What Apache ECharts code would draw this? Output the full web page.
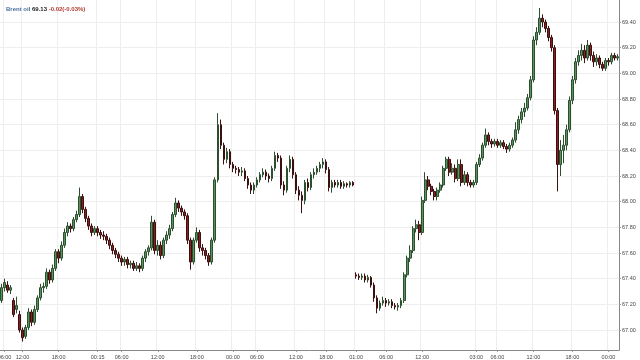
<!DOCTYPE html>
<html><head><meta charset="utf-8">
<script src="https://cdn.jsdelivr.net/npm/echarts@6/dist/echarts.min.js"></script>
<style>html,body{margin:0;padding:0;background:#fff}#c{width:640px;height:360px}</style>
</head><body><div id="c"></div>
<script>
// Instrument header
const instrument = 'Brent oil';
const lastPrice = 69.13;
const changeText = '-0.02(-0.03%)';

// Candles: [open, close, low, high] — session 1
const session1 = [
[67.23,67.33,67.21,67.36],[67.33,67.37,67.30,67.40],[67.35,67.31,67.29,67.38],[67.31,67.33,67.28,67.35],
[67.23,67.12,67.10,67.25],[67.16,67.19,67.13,67.26],[67.12,67.00,66.98,67.15],[67.00,66.94,66.91,67.02],
[66.95,67.02,66.93,67.04],[67.02,67.14,67.00,67.17],[67.14,67.06,67.03,67.16],[67.06,67.16,67.04,67.19],
[67.16,67.25,67.14,67.27],[67.25,67.33,67.23,67.36],[67.33,67.34,67.29,67.37],[67.34,67.45,67.32,67.48],
[67.45,67.39,67.36,67.47],[67.39,67.48,67.37,67.51],[67.48,67.61,67.46,67.63],[67.61,67.56,67.52,67.63],
[67.56,67.66,67.54,67.69],[67.66,67.76,67.64,67.79],[67.76,67.81,67.73,67.84],[67.81,67.79,67.76,67.83],
[67.79,67.86,67.77,67.88],[67.86,67.90,67.84,67.93],[67.90,68.04,67.88,68.11],[68.04,67.94,67.91,68.06],
[67.94,67.87,67.84,67.96],[67.87,67.81,67.78,67.89],[67.81,67.76,67.73,67.83],[67.76,67.79,67.74,67.81],
[67.79,67.76,67.73,67.81],[67.76,67.74,67.71,67.78],[67.74,67.73,67.70,67.77],[67.73,67.70,67.67,67.75],
[67.70,67.66,67.63,67.72],[67.66,67.62,67.59,67.68],[67.62,67.59,67.56,67.64],[67.59,67.56,67.53,67.61],
[67.56,67.53,67.50,67.58],[67.53,67.55,67.50,67.57],[67.55,67.51,67.48,67.57],[67.51,67.52,67.48,67.54],
[67.52,67.48,67.46,67.54],[67.48,67.50,67.46,67.53],[67.50,67.48,67.45,67.52],[67.48,67.56,67.46,67.58],
[67.56,67.61,67.53,67.63],[67.61,67.64,67.58,67.66],[67.64,67.84,67.62,67.89],[67.84,67.62,67.59,67.86],
[67.62,67.66,67.58,67.70],[67.66,67.58,67.55,67.69],[67.58,67.70,67.56,67.72],[67.70,67.74,67.67,67.77],
[67.74,67.79,67.71,67.82],[67.79,67.90,67.77,67.92],[67.90,67.99,67.88,68.03],[67.99,67.95,67.92,68.01],
[67.95,67.92,67.89,67.97],[67.92,67.89,67.86,67.94],[67.89,67.70,67.67,67.91],[67.70,67.53,67.47,67.72],
[67.53,67.70,67.51,67.72],[67.70,67.76,67.68,67.80],[67.76,67.64,67.61,67.78],[67.64,67.62,67.58,67.67],
[67.62,67.58,67.55,67.64],[67.58,67.53,67.50,67.60],[67.53,67.70,67.51,67.72],[67.70,68.17,67.68,68.19],
[68.17,68.60,68.15,68.69],[68.60,68.44,68.41,68.64],[68.44,68.33,68.29,68.46],[68.33,68.39,68.30,68.42],
[68.39,68.29,68.26,68.41],[68.29,68.26,68.23,68.31],[68.26,68.25,68.22,68.28],[68.25,68.23,68.20,68.27],
[68.23,68.24,68.20,68.27],[68.24,68.18,68.16,68.26],[68.18,68.13,68.10,68.20],[68.13,68.09,68.06,68.15],
[68.09,68.13,68.06,68.15],[68.13,68.17,68.11,68.19],[68.17,68.21,68.15,68.23],[68.21,68.23,68.19,68.26],
[68.23,68.20,68.17,68.25],[68.20,68.18,68.15,68.22],[68.18,68.26,68.16,68.28],[68.26,68.36,68.24,68.39],
[68.36,68.34,68.31,68.38],[68.34,68.13,68.10,68.36],[68.13,68.09,68.05,68.16],[68.09,68.26,68.07,68.28],
[68.26,68.33,68.23,68.36],[68.33,68.21,68.18,68.35],[68.21,68.09,68.06,68.23],[68.09,68.05,68.01,68.12],
[68.05,68.01,67.91,68.08],[68.01,68.15,67.98,68.17],[68.15,68.11,68.08,68.18],[68.11,68.21,68.09,68.23],
[68.21,68.23,68.18,68.26],[68.23,68.26,68.21,68.28],[68.26,68.29,68.23,68.31],[68.29,68.31,68.26,68.34],
[68.31,68.25,68.22,68.33],[68.25,68.11,68.08,68.27],[68.11,68.15,68.07,68.17],[68.15,68.13,68.11,68.17],
[68.13,68.15,68.11,68.17],[68.15,68.12,68.10,68.17],[68.12,68.14,68.10,68.16],[68.14,68.13,68.11,68.15],
[68.13,68.15,68.11,68.16],[68.15,68.13,68.12,68.16]
];
// Candles: [open, close, low, high] — session 2
const session2 = [
[67.43,67.42,67.40,67.45],[67.42,67.41,67.39,67.44],[67.41,67.42,67.39,67.44],[67.42,67.39,67.37,67.44],
[67.39,67.41,67.37,67.43],[67.41,67.35,67.33,67.42],[67.35,67.25,67.22,67.37],[67.25,67.17,67.13,67.27],
[67.17,67.21,67.15,67.23],[67.21,67.23,67.19,67.26],[67.23,67.21,67.18,67.25],[67.21,67.22,67.19,67.24],
[67.22,67.19,67.17,67.24],[67.19,67.18,67.16,67.21],[67.18,67.19,67.15,67.21],[67.19,67.23,67.17,67.25],
[67.23,67.43,67.21,67.45],[67.43,67.56,67.41,67.58],[67.56,67.62,67.53,67.66],[67.62,67.79,67.60,67.81],
[67.79,67.82,67.76,67.86],[67.82,67.76,67.70,67.85],[67.76,68.01,67.74,68.04],[68.01,68.17,67.99,68.23],
[68.17,68.12,68.09,68.20],[68.12,68.08,68.05,68.14],[68.08,68.04,68.01,68.10],[68.04,68.09,68.01,68.11],
[68.09,68.13,68.07,68.15],[68.13,68.26,68.11,68.28],[68.26,68.33,68.24,68.35],[68.33,68.23,68.20,68.35],
[68.23,68.26,68.21,68.30],[68.26,68.18,68.15,68.29],[68.18,68.29,68.16,68.33],[68.29,68.15,68.12,68.33],
[68.15,68.21,68.13,68.24],[68.21,68.15,68.12,68.23],[68.15,68.13,68.11,68.17],[68.13,68.15,68.11,68.17],
[68.15,68.29,68.13,68.31],[68.29,68.34,68.27,68.37],[68.34,68.44,68.32,68.46],[68.44,68.52,68.42,68.57],
[68.52,68.47,68.44,68.54],[68.47,68.45,68.42,68.49],[68.45,68.47,68.43,68.49],[68.47,68.44,68.42,68.49],
[68.44,68.46,68.42,68.48],[68.46,68.43,68.41,68.48],[68.43,68.41,68.38,68.45],[68.41,68.44,68.39,68.46],
[68.44,68.48,68.42,68.50],[68.48,68.56,68.46,68.62],[68.56,68.64,68.53,68.67],[68.64,68.70,68.61,68.73],
[68.70,68.73,68.66,68.77],[68.73,68.81,68.71,68.84],[68.81,68.95,68.79,68.98],[68.95,69.26,68.93,69.29],
[69.26,69.32,69.22,69.36],[69.32,69.43,69.30,69.51],[69.43,69.40,69.36,69.46],[69.40,69.35,69.32,69.42],
[69.35,69.28,69.25,69.37],[69.28,69.20,69.17,69.30],[69.20,68.71,68.68,69.22],[68.71,68.29,68.08,68.73],
[68.29,68.40,68.20,68.48],[68.40,68.44,68.30,68.52],[68.44,68.56,68.40,68.60],[68.56,68.79,68.54,68.82],
[68.79,68.95,68.76,68.98],[68.95,69.09,68.92,69.12],[69.09,69.14,69.06,69.18],[69.14,69.18,69.10,69.23],
[69.18,69.12,69.08,69.22],[69.12,69.22,69.10,69.26],[69.22,69.14,69.10,69.24],[69.14,69.09,69.05,69.17],
[69.09,69.12,69.06,69.15],[69.12,69.07,69.04,69.14],[69.07,69.04,69.02,69.09],[69.04,69.10,69.02,69.12],
[69.10,69.09,69.06,69.12],[69.09,69.14,69.07,69.16],[69.14,69.12,69.10,69.16],[69.12,69.13,69.10,69.15]
];

// Time-axis tick labels: candle index and text
const tickIndex = [1, 7, 19, 32, 40, 52, 65, 77, 85, 98, 108, 118, 128, 140, 158, 165, 177, 190, 202];
const tickText  = ['06:00','12:00','18:00','00:15','06:00','12:00','18:00','00:00','06:00','12:00','18:00','01:00','06:00','12:00','03:00','06:00','12:00','18:00','00:00'];

// Price-axis ticks
const priceTicks = [67.0, 67.2, 67.4, 67.6, 67.8, 68.0, 68.2, 68.4, 68.6, 68.8, 69.0, 69.2, 69.4];
const priceMin = 66.844, priceMax = 69.572;

const candles = session1.concat(session2);
const cats = candles.map((_, i) => String(i));
const tickMap = {};
tickIndex.forEach((ix, k) => { tickMap[ix] = tickText[k]; });
const isTick = (idx) => tickMap[idx] !== undefined;

const FONT = '"Liberation Sans", Arial, sans-serif';
const chart = echarts.init(document.getElementById('c'), null, {renderer: 'canvas'});
chart.setOption({
  animation: false,
  backgroundColor: '#ffffff',
  title: {
    left: 1, top: 1,
    text: '{a|' + instrument + '} {b|' + lastPrice.toFixed(2) + '} {c|' + changeText + '}',
    textStyle: {
      fontSize: 6,
      rich: {
        a: {fontSize: 6, fontWeight: 'bold', color: '#4d6f9e', fontFamily: FONT},
        b: {fontSize: 6, fontWeight: 'bold', color: '#222', fontFamily: FONT},
        c: {fontSize: 6, fontWeight: 'bold', color: '#b23a2e', fontFamily: FONT}
      }
    }
  },
  grid: {left: 0, right: 21, top: 0, bottom: 10, outerBoundsMode: 'none', containLabel: false},
  xAxis: {
    type: 'category',
    data: cats,
    boundaryGap: true,
    axisLine: {lineStyle: {color: '#888', width: 1}},
    axisTick: {show: true, interval: (idx) => isTick(idx), length: 2, alignWithLabel: true, lineStyle: {color: '#999'}},
    axisLabel: {
      interval: (idx) => isTick(idx),
      formatter: (v, idx) => tickMap[idx] || '',
      fontSize: 5.5, color: '#444', margin: 4, fontFamily: FONT,
      hideOverlap: false,
      showMinLabel: true
    },
    splitLine: {show: true, interval: (idx) => isTick(idx), lineStyle: {color: '#eeeeee', width: 1}}
  },
  yAxis: {
    type: 'value',
    position: 'right',
    min: priceMin, max: priceMax,
    scale: true,
    axisLine: {show: true, lineStyle: {color: '#888'}},
    axisTick: {show: true, length: 2, customValues: priceTicks, lineStyle: {color: '#999'}},
    axisLabel: {
      customValues: priceTicks,
      formatter: (v) => v.toFixed(2),
      fontSize: 5.5, color: '#444', margin: 3, fontFamily: FONT
    },
    splitLine: {show: true, lineStyle: {color: '#eeeeee', width: 1}}
  },
  series: [{
    type: 'candlestick',
    data: candles,
    barWidth: 2.2,
    itemStyle: {
      color: '#55955b',
      color0: '#8a1f1f',
      borderColor: '#2d4f30',
      borderColor0: '#3b1010',
      borderWidth: 1
    },
    markLine: {
      silent: true,
      symbol: 'none',
      data: [{yAxis: lastPrice}],
      lineStyle: {opacity: 0},
      label: {
        position: 'end',
        formatter: () => lastPrice.toFixed(2),
        backgroundColor: '#1e1e1e',
        color: '#fff',
        fontSize: 5.5,
        fontFamily: FONT,
        padding: [1, 2, 1, 2],
        distance: 2
      }
    }
  }]
});
</script>
</body></html>
